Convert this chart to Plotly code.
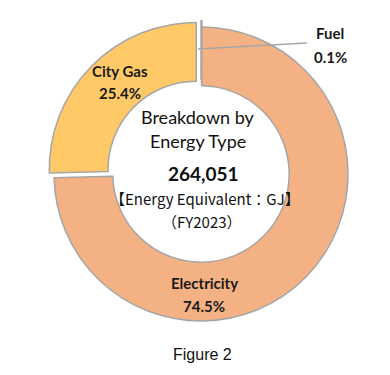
import plotly.graph_objects as go

# ---- data ----
categories = ["Fuel", "Electricity", "City Gas"]
shares = [0.1, 74.5, 25.4]          # % of total energy
total_gj = "264,051"
fiscal_year = "FY2023"
colors = ["#B9805A", "#F4B183", "#FFC967"]
pulls = [0.045, 0.0, 0.045]

OFF = 8                      # browser body margin
W, H = 390 - OFF, 375 - OFF
cx, cy, r = 201, 174, 147
half = r * (1 + max(pulls))

def px(x):
    return (x - OFF) / W

def py(y):
    return 1 - (y - OFF) / H

fig = go.Figure(go.Pie(
    labels=categories,
    values=shares,
    sort=False,
    direction="clockwise",
    rotation=0,
    hole=0.6,
    pull=pulls,
    marker=dict(colors=colors, line=dict(color="#A6A6A6", width=1.5)),
    textinfo="none",
    hoverinfo="skip",
    showlegend=False,
    domain=dict(x=[px(cx - half), px(cx + half)],
                y=[py(cy + half), py(cy - half)]),
))

LATO = "Lato, Noto Sans CJK JP, sans-serif"
CJK = "Noto Sans CJK JP, Lato, sans-serif"
ann = []
def add(text, x, y, size, bold=False, family=LATO, color="#1a1a1a"):
    t = f"<b>{text}</b>" if bold else text
    ann.append(dict(text=t, x=px(x), y=py(y), xref="paper", yref="paper",
                    showarrow=False, xanchor="center", yanchor="middle",
                    font=dict(size=size, family=family, color=color)))

# slice labels
lab_pos = {"Fuel": (330, 33, 57), "Electricity": (204, 283, 306), "City Gas": (120, 71, 93)}
for name, val in zip(categories, shares):
    x, y1, y2 = lab_pos[name]
    add(name, x, y1, 15, bold=True)
    add(f"{val:.1f}%", x, y2, 15, bold=True)

# centre text
add("Breakdown by", 198, 117, 18, color="#111111")
add("Energy Type", 198, 141, 18, color="#111111")
add(total_gj, 203, 173, 19, bold=True, color="#111111")
add("【Energy Equivalent：GJ】", 205, 198, 15, family=CJK, color="#111111")
add(f"（{fiscal_year}）", 202, 222, 15, family=CJK, color="#111111")

# caption
add("Figure 2", 202, 354, 16, family="Liberation Sans, Arial, sans-serif", color="#111111")

fig.update_layout(
    width=W, height=H,
    margin=dict(l=0, r=0, t=0, b=0),
    paper_bgcolor="white", plot_bgcolor="white",
    annotations=ann,
    shapes=[dict(type="line", xref="paper", yref="paper",
                 x0=px(198), y0=py(49), x1=px(307), y1=py(43),
                 line=dict(color="#A6A6A6", width=1.5))],
)

fig.write_html("out.html")
